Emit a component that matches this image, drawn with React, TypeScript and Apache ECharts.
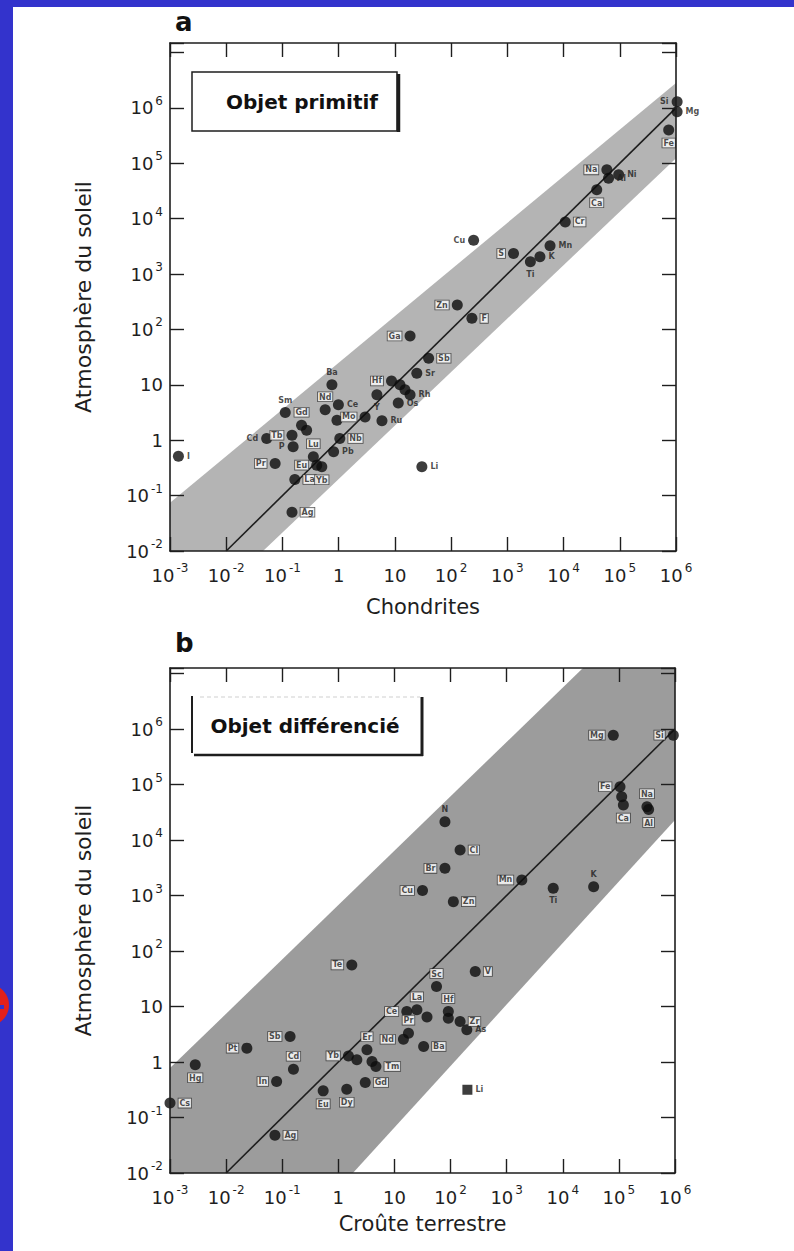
import React, { useEffect, useRef } from "react";
import * as echarts from "echarts";

// ---------- DATA (log10 of abundances, Si = 10^6) ----------
// Panel a : Objet primitif (chondrites vs atmosphère du soleil)
const elementsA = ["I", "Cd", "Pr", "Sm", "Tb", "P", "Gd", "", "Nd", "Ba", "Ce", "", "Lu", "Eu", "La", "Yb", "Ag", "Pb", "Nb", "Mo", "Y", "Ru", "Hf", "", "", "Rh", "Os", "Sr", "Sb", "Ga", "Zn", "F", "Li", "Cu", "S", "Ti", "K", "Mn", "Cr", "Ca", "Na", "Al", "Ni", "Fe", "Si", "Mg"];
const chondritesLogA = [-2.85, -1.28, -1.13, -0.95, -0.83, -0.81, -0.66, -0.57, -0.24, -0.12, -0.005, -0.03, -0.45, -0.39, -0.78, -0.3, -0.83, -0.09, 0.02, 0.47, 0.68, 0.77, 0.94, 1.09, 1.18, 1.27, 1.06, 1.39, 1.6, 1.27, 2.11, 2.37, 1.48, 2.4, 3.11, 3.41, 3.58, 3.76, 4.03, 4.59, 4.77, 4.8, 4.98, 5.87, 6.02, 6.02];
const sunLogA = [-0.29, 0.03, -0.42, 0.5, 0.09, -0.12, 0.27, 0.18, 0.55, 1.0, 0.64, 0.36, -0.3, -0.45, -0.71, -0.48, -1.3, -0.21, 0.03, 0.42, 0.82, 0.35, 1.07, 1.0, 0.91, 0.82, 0.67, 1.21, 1.48, 1.88, 2.44, 2.2, -0.48, 3.61, 3.37, 3.22, 3.31, 3.51, 3.94, 4.52, 4.88, 4.73, 4.79, 5.6, 6.11, 5.93];
// band of panel a (vertices, log10 units)
const bandA = [[-3, -2], [-3, -1.13], [6, 6.45], [6, 5.09], [-1.345, -2]];

// Panel b : Objet différencié (croûte terrestre vs atmosphère du soleil)
const elementsB = ["Cs", "Hg", "Pt", "Sb", "Cd", "In", "Ag", "Te", "Eu", "Dy", "Yb", "", "Er", "", "Tm", "Gd", "Nd", "Pr", "Ba", "Ce", "La", "", "Hf", "", "Zr", "As", "Sc", "V", "N", "Cl", "Br", "Cu", "Zn", "Mn", "Ti", "K", "Mg", "Si", "Fe", "", "Ca", "Na", "Al", "Li"];
const crustLogB = [-3.0, -2.55, -1.63, -0.86, -0.8, -1.1, -1.13, 0.24, -0.27, 0.15, 0.18, 0.33, 0.51, 0.6, 0.67, 0.48, 1.16, 1.25, 1.52, 1.22, 1.4, 1.58, 1.96, 1.96, 2.17, 2.29, 1.75, 2.44, 1.9, 2.17, 1.9, 1.5, 2.05, 3.27, 3.83, 4.55, 4.9, 5.97, 5.02, 5.05, 5.08, 5.5, 5.53, 2.3];
const sunLogB = [-0.74, -0.05, 0.25, 0.46, -0.13, -0.35, -1.32, 1.75, -0.52, -0.49, 0.11, 0.04, 0.22, 0.01, -0.08, -0.37, 0.41, 0.52, 0.28, 0.91, 0.94, 0.81, 0.91, 0.79, 0.73, 0.58, 1.36, 1.63, 4.33, 3.82, 3.49, 3.09, 2.89, 3.28, 3.13, 3.16, 5.89, 5.89, 4.96, 4.78, 4.63, 4.6, 4.55, -0.5];
// band of panel b
const bandB = [[-3, -2], [-3, -0.11], [4.36, 7.1], [6, 7.1], [6, 4.36], [0.26, -2]];

// 1:1 line (log10 range)
const oneToOne = [-2, 6];

// axis ranges (log10)
const xRange = [-3, 6];
const yMaxA = 7.17;
const yMaxB = 7.1;
const lastLabelledDecade = 6;

// ---------- label placement (style) ----------
const sideA: Record<string, string> = {
  Cd: "left", Pr: "left", Sm: "top", Tb: "left", P: "left", Gd: "top", Nd: "top", Ba: "top",
  Lu: "top", Eu: "left", Yb: "bottom", Mo: "left", Y: "bottom", Hf: "left",
  Ga: "left", Zn: "left", Cu: "left", S: "left", Ti: "bottom", Ca: "bottom", Na: "left",
  Fe: "bottom", Si: "left",
};
const boxedA = ["Pr", "Tb", "Gd", "Nd", "Lu", "Eu", "La", "Yb", "Ag", "Nb", "Mo", "Hf", "Sb", "Ga", "Zn", "F", "S", "Cr", "Ca", "Na", "Fe"];
const sideB: Record<string, string> = {
  Hg: "bottom", Pt: "left", Sb: "left", Cd: "top", In: "left", Te: "left", Eu: "bottom", Dy: "bottom",
  Yb: "left", Er: "top", Nd: "left", Pr: "top", Ce: "left", La: "top", Hf: "top", Sc: "top",
  N: "top", Br: "left", Cu: "left", Mn: "left", Ti: "bottom", K: "top", Mg: "left", Si: "left",
  Fe: "left", Ca: "bottom", Na: "top", Al: "bottom",
};
const plainB = ["N", "Ti", "K", "As", "Li"];

const BLUE = "#3333cc";
const INK = "#1e1e1e";
const FONT = "DejaVu Sans";

function tickFmt(v: number) {
  if (Math.abs(v - Math.round(v)) > 1e-6) return "";
  const n = Math.round(v);
  if (n > lastLabelledDecade) return "";
  if (n === 0) return "{n|1}";
  if (n === 1) return "{n|10}";
  return `{n|10}{s|${n}}`;
}

const rich = {
  n: { fontSize: 18, fontFamily: FONT, color: INK, lineHeight: 26 },
  s: { fontSize: 12, fontFamily: FONT, color: INK, lineHeight: 11, verticalAlign: "top", padding: [0, 0, 0, 2] },
};

const lineStyle = { color: INK, width: 1.6 };
const tick = { show: true, inside: true, length: 14, lineStyle: { color: INK, width: 1.4 } };

function makePoints(names: string[], xs: number[], ys: number[], side: Record<string, string>, isBoxed: (n: string) => boolean, squares: string[] = []) {
  return names.map((n, i) => {
    const boxed = n !== "" && isBoxed(n);
    return {
      name: n,
      value: [xs[i], ys[i]],
      symbol: squares.includes(n) ? "rect" : "circle",
      symbolSize: squares.includes(n) ? 10 : 11,
      label: {
        show: n !== "",
        formatter: n,
        position: side[n] || "right",
        distance: 3,
        fontSize: 8,
        fontFamily: FONT,
        fontWeight: "bold",
        color: INK,
        ...(boxed ? { backgroundColor: "#fff", borderColor: "#333", borderWidth: 0.8, padding: [1, 1, 0, 1] } : {}),
      },
    };
  });
}

function bandSeries(band: number[][], axis: number, fill: string) {
  return {
    type: "custom",
    xAxisIndex: axis,
    yAxisIndex: axis,
    data: band,
    encode: { x: 0, y: 1 },
    silent: true,
    z: 1,
    renderItem: (params: any, api: any) => {
      if (params.dataIndex !== 0) return null;
      const pts = band.map((p) => api.coord(p));
      return { type: "polygon", shape: { points: pts }, style: { fill } };
    },
  };
}

export default function App() {
  const ref = useRef<HTMLDivElement>(null);
  useEffect(() => {
    if (!ref.current) return;
    const chart = echarts.init(ref.current, null, { renderer: "svg" });

    const axisLine = { show: true, onZero: false, lineStyle };
    const xBottom = (grid: number, name: string, gap: number) => ({
      type: "value", gridIndex: grid, position: "bottom", min: xRange[0], max: xRange[1], interval: 1, z: 10,
      axisLine, axisTick: tick, splitLine: { show: false },
      axisLabel: { formatter: tickFmt, rich, margin: 11 },
      name, nameLocation: "middle", nameGap: gap,
      nameTextStyle: { fontFamily: FONT, fontSize: 21, color: INK },
    });
    const xTop = (grid: number) => ({
      type: "value", gridIndex: grid, position: "top", min: xRange[0], max: xRange[1], interval: 1, z: 10,
      axisLine, axisTick: tick, splitLine: { show: false }, axisLabel: { show: false },
    });
    const yLeft = (grid: number, max: number) => ({
      type: "value", gridIndex: grid, position: "left", min: -2, max, interval: 1, z: 10,
      axisLine, axisTick: tick, splitLine: { show: false },
      axisLabel: { formatter: tickFmt, rich, margin: 7 },
      name: "Atmosphère du soleil", nameLocation: "middle", nameGap: 76,
      nameTextStyle: { fontFamily: FONT, fontSize: 22, color: INK },
    });
    const yRight = (grid: number, max: number) => ({
      type: "value", gridIndex: grid, position: "right", min: -2, max, interval: 1, z: 10,
      axisLine, axisTick: tick, splitLine: { show: false }, axisLabel: { show: false },
    });

    const lineData = [[oneToOne[0], oneToOne[0]], [oneToOne[1], oneToOne[1]]];

    chart.setOption({
      animation: false,
      backgroundColor: "#fff",
      grid: [
        { left: 170, top: 43, width: 506, height: 508 },
        { left: 170, top: 668, width: 505, height: 505 },
      ],
      xAxis: [xBottom(0, "Chondrites", 45), xTop(0), xBottom(1, "Croûte terrestre", 40), xTop(1)],
      yAxis: [yLeft(0, yMaxA), yRight(0, yMaxA), yLeft(1, yMaxB), yRight(1, yMaxB)],
      series: [
        bandSeries(bandA, 0, "#b4b4b4"),
        { type: "line", xAxisIndex: 0, yAxisIndex: 0, data: lineData, symbol: "none", lineStyle: { color: INK, width: 1.6 }, z: 2, silent: true },
        {
          type: "scatter", xAxisIndex: 0, yAxisIndex: 0, clip: false, z: 3,
          itemStyle: { color: "#0d0d0d" },
          data: makePoints(elementsA, chondritesLogA, sunLogA, sideA, (n) => boxedA.includes(n)),
        },
        bandSeries(bandB, 2, "#9c9c9c"),
        { type: "line", xAxisIndex: 2, yAxisIndex: 2, data: lineData, symbol: "none", lineStyle: { color: INK, width: 1.6 }, z: 2, silent: true },
        {
          type: "scatter", xAxisIndex: 2, yAxisIndex: 2, clip: false, z: 3,
          itemStyle: { color: "#0d0d0d" },
          data: makePoints(elementsB, crustLogB, sunLogB, sideB, (n) => !plainB.includes(n), ["Li"]),
        },
      ],
      graphic: [
        { type: "rect", z: 100, shape: { x: 0, y: 0, width: 13, height: 1251 }, style: { fill: BLUE } },
        { type: "rect", z: 100, shape: { x: 0, y: 0, width: 794, height: 7 }, style: { fill: BLUE } },
        { type: "circle", z: 101, shape: { cx: -12, cy: 1005, r: 21 }, style: { fill: "#e3201b" } },
        { type: "rect", z: 102, shape: { x: 0, y: 1005, width: 4, height: 4 }, style: { fill: BLUE } },
        { type: "text", z: 100, x: 175, y: 22, style: { text: "a", fontFamily: FONT, fontWeight: "bold", fontSize: 26, fill: "#111", textAlign: "left", textVerticalAlign: "middle" } },
        { type: "text", z: 100, x: 175, y: 643, style: { text: "b", fontFamily: FONT, fontWeight: "bold", fontSize: 26, fill: "#111", textAlign: "left", textVerticalAlign: "middle" } },
        // legend box a
        { type: "rect", z: 100, shape: { x: 192, y: 72, width: 205, height: 59 }, style: { fill: "#fff", stroke: INK, lineWidth: 1.5 } },
        { type: "line", z: 101, shape: { x1: 398.5, y1: 74, x2: 398.5, y2: 132 }, style: { stroke: INK, lineWidth: 3.5 } },
        { type: "text", z: 102, x: 302, y: 102, style: { text: "Objet primitif", fontFamily: FONT, fontWeight: "bold", fontSize: 20, fill: "#111", textAlign: "center", textVerticalAlign: "middle" } },
        // legend box b
        { type: "line", z: 100, shape: { x1: 200, y1: 697, x2: 420, y2: 697 }, style: { stroke: "#cfcfcf", lineWidth: 1, lineDash: [4, 3] } },
        { type: "line", z: 100, shape: { x1: 192, y1: 696, x2: 192, y2: 753 }, style: { stroke: INK, lineWidth: 2 } },
        { type: "line", z: 100, shape: { x1: 194, y1: 755, x2: 423, y2: 755 }, style: { stroke: INK, lineWidth: 2.5 } },
        { type: "line", z: 100, shape: { x1: 422, y1: 697, x2: 422, y2: 756 }, style: { stroke: INK, lineWidth: 3 } },
        { type: "text", z: 102, x: 305, y: 726, style: { text: "Objet différencié", fontFamily: FONT, fontWeight: "bold", fontSize: 20, fill: "#111", textAlign: "center", textVerticalAlign: "middle" } },
      ],
    });
    return () => chart.dispose();
  }, []);
  return <div ref={ref} style={{ position: "absolute", left: 0, top: 0, width: 794, height: 1251 }} />;
}
